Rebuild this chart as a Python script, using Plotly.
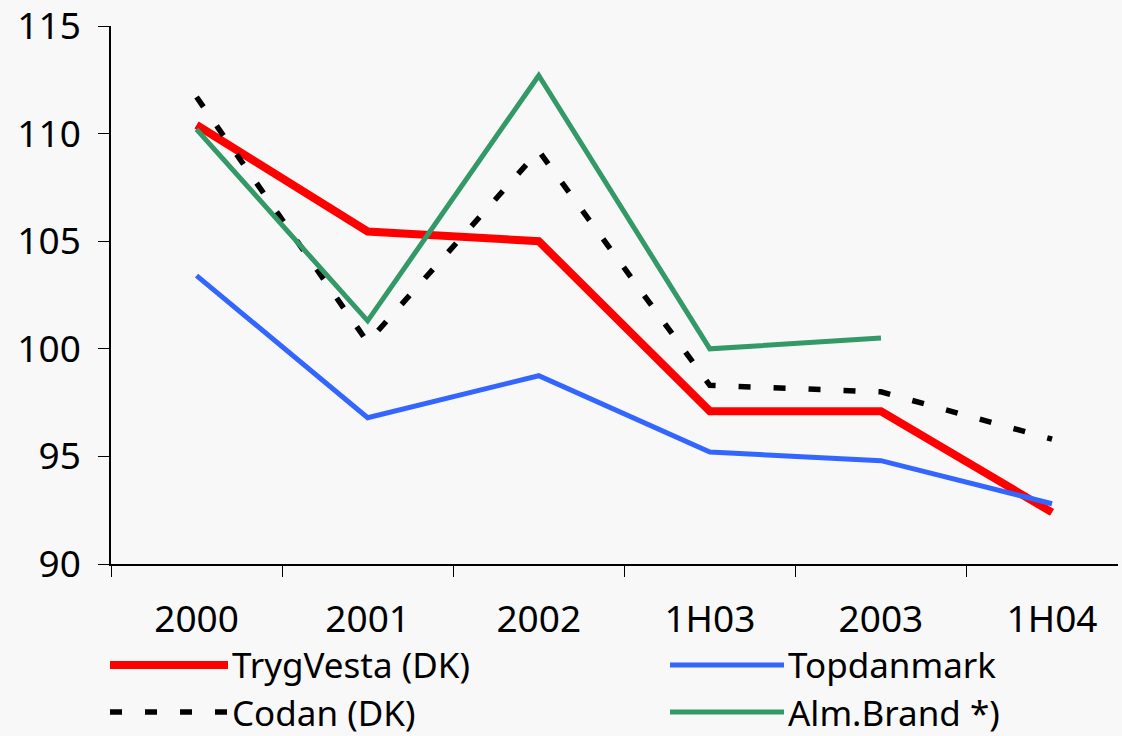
import plotly.graph_objects as go

periods = ['2000', '2001', '2002', '1H03', '2003', '1H04']

trygvesta = [110.4, 105.45, 105.0, 97.1, 97.1, 92.4]
topdanmark = [103.4, 96.8, 98.75, 95.2, 94.8, 92.8]
codan = [111.7, 100.3, 109.2, 98.3, 98.0, 95.8]
almbrand = [110.2, 101.3, 112.7, 100.0, 100.5, None]

names = ['TrygVesta (DK)', 'Topdanmark', 'Codan (DK)', 'Alm.Brand *)']

font = dict(family='Noto Sans', size=37, color='black')
legend_font = dict(family='Noto Sans', size=35, color='black')
bg = '#f8f8f8'

# pixel layout of the plot area
L, T, B, R = 111, 26, 172, 4
W, H = 1122, 736
pw = W - L - R
ph = H - T - B
cat_px = 171.1

fig = go.Figure()

styles = {
    'TrygVesta (DK)': dict(color='#ff0000', width=8),
    'Codan (DK)': dict(color='black', width=5.5, dash='12px,23px'),
    'Topdanmark': dict(color='#3366ff', width=5),
    'Alm.Brand *)': dict(color='#339966', width=5),
}
series = {
    'TrygVesta (DK)': trygvesta,
    'Topdanmark': topdanmark,
    'Codan (DK)': codan,
    'Alm.Brand *)': almbrand,
}

for name in ['TrygVesta (DK)', 'Codan (DK)', 'Topdanmark', 'Alm.Brand *)']:
    fig.add_trace(go.Scatter(x=periods, y=series[name], mode='lines', name=name,
                             line=styles[name], showlegend=False))

# hand-made legend so the sample lines are as long as in the original
def px_x(p):
    return (p - L) / pw

def px_y(p):
    return (H - B - p) / ph

legend_pos = [(110, 228, 665), (670, 784, 665), (110, 228, 712), (670, 784, 712)]
for name, (x0, x1, yy) in zip(names, legend_pos):
    fig.add_shape(type='line', xref='paper', yref='paper',
                  x0=px_x(x0), x1=px_x(x1), y0=px_y(yy), y1=px_y(yy),
                  line=styles[name])
    fig.add_annotation(text=name, xref='paper', yref='paper',
                       x=px_x(x1 + 2), y=px_y(yy), xanchor='left', yanchor='middle',
                       showarrow=False, font=legend_font)

fig.update_xaxes(type='category', range=[-0.5, -0.5 + pw / cat_px], automargin=False,
                 tickson='boundaries', ticks='outside', ticklen=11, tickcolor='black',
                 showline=True, linecolor='black', linewidth=1.5, ticklabeloverflow='allow',
                 showgrid=False, zeroline=False, tickfont=font, ticklabelstandoff=22)
fig.update_yaxes(range=[90, 115], dtick=5, ticks='outside', ticklen=11, tickcolor='black',
                 automargin=False, ticklabeloverflow='allow',
                 showline=True, linecolor='black', linewidth=1.5,
                 showgrid=False, zeroline=False, tickfont=font, ticklabelstandoff=10)

fig.update_layout(width=W, height=H, margin=dict(l=L, r=R, t=T, b=B),
                  paper_bgcolor=bg, plot_bgcolor=bg, font=font)

# drop the default page margin so the figure fills the window exactly
fig.write_html("out.html", config={'displayModeBar': False},
               post_script="document.body.style.margin='0';"
                           "document.body.style.overflow='hidden';"
                           "document.body.style.background='#f8f8f8';")
